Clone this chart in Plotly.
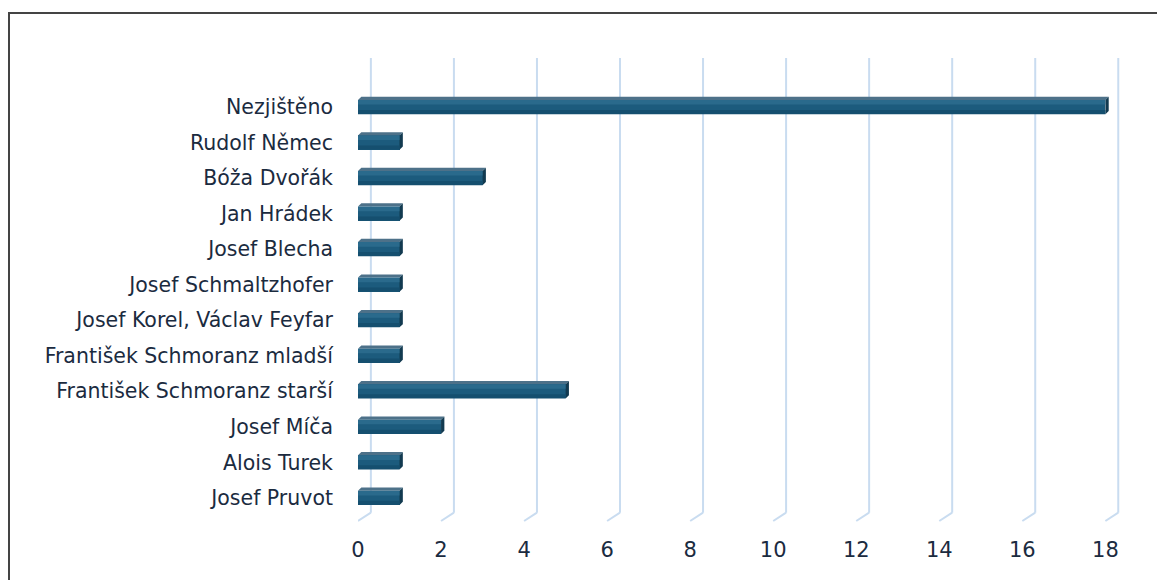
import plotly.graph_objects as go

categories = ["Josef Pruvot", "Alois Turek", "Josef Míča", "František Schmoranz starší",
              "František Schmoranz mladší", "Josef Korel, Václav Feyfar", "Josef Schmaltzhofer",
              "Josef Blecha", "Jan Hrádek", "Bóža Dvořák", "Rudolf Němec", "Nezjištěno"]
values = [1, 1, 2, 5, 1, 1, 1, 1, 1, 3, 1, 18]
tick_values = [0, 2, 4, 6, 8, 10, 12, 14, 16, 18]

ypos = list(range(len(categories)))
half = 0.2
dx = 0.08
dy = 0.09

W, H = 1157, 580
ML, MR, MT, MB = 358, 35, 58, 59
PW, PH = W - ML - MR, H - MT - MB

fig = go.Figure()
fig.add_trace(go.Bar(
    x=values, y=ypos, orientation="h", width=2 * half,
    marker=dict(color="#1c5b7d", line=dict(width=0)),
    hoverinfo="x+y",
))

shapes = []
# 3D-looking gridlines
for t in tick_values:
    shapes.append(dict(type="line", xref="x", yref="paper", x0=t + 0.31, x1=t + 0.31, y0=0.018, y1=1,
                       line=dict(color="#c9dcf0", width=2), layer="below"))
    shapes.append(dict(type="line", xref="x", yref="paper", x0=t + 0.31, x1=t, y0=0.018, y1=0,
                       line=dict(color="#c9dcf0", width=2), layer="below"))
# bar top and side faces
for v, y in zip(values, ypos):
    top = y + half
    bot = y - half
    shapes.append(dict(type="path", xref="x", yref="y",
                       path=f"M 0,{top} L {v},{top} L {v + dx},{top + dy} L {dx},{top + dy} Z",
                       fillcolor="#4d7189", line=dict(width=0)))
    shapes.append(dict(type="path", xref="x", yref="y",
                       path=f"M {v},{bot} L {v},{top} L {v + dx},{top + dy} L {v + dx},{bot + dy} Z",
                       fillcolor="#123a50", line=dict(width=0)))
# shading bands on front face
for v, y in zip(values, ypos):
    shapes.append(dict(type="rect", xref="x", yref="y", x0=0, x1=v, y0=y + half * 0.35, y1=y + half,
                       fillcolor="#2a6a8c", line=dict(width=0)))
    shapes.append(dict(type="rect", xref="x", yref="y", x0=0, x1=v, y0=y - half, y1=y - half * 0.4,
                       fillcolor="#154f6f", line=dict(width=0)))

# outer border (left and top visible)
bx0 = (9 - ML) / PW
by1 = (H - MB - 13) / PH
shapes.append(dict(type="rect", xref="paper", yref="paper", x0=bx0, x1=1.2, y0=-0.3, y1=by1,
                   line=dict(color="#444444", width=2), fillcolor="rgba(0,0,0,0)"))

fig.update_layout(
    width=W, height=H,
    margin=dict(l=ML, r=MR, t=MT, b=MB, autoexpand=False),
    paper_bgcolor="white", plot_bgcolor="white",
    font=dict(family="DejaVu Sans", size=20.5, color="#1b2b3f"),
    showlegend=False,
    bargap=0,
    shapes=shapes,
    xaxis=dict(range=[0, 18.4], tickvals=tick_values, showgrid=False, zeroline=False,
               showline=False, ticks="", ticklabelstandoff=14, fixedrange=True, automargin=False,
               tickfont=dict(size=21)),
    yaxis=dict(range=[-0.65, 12.38], tickvals=ypos, ticktext=categories, showgrid=False,
               zeroline=False, showline=False, ticks="", ticklabelstandoff=24, fixedrange=True,
               automargin=False),
)
fig.write_html("out.html", config={"displayModeBar": False},
               post_script="document.body.style.margin='0';document.body.style.overflow='hidden';")
